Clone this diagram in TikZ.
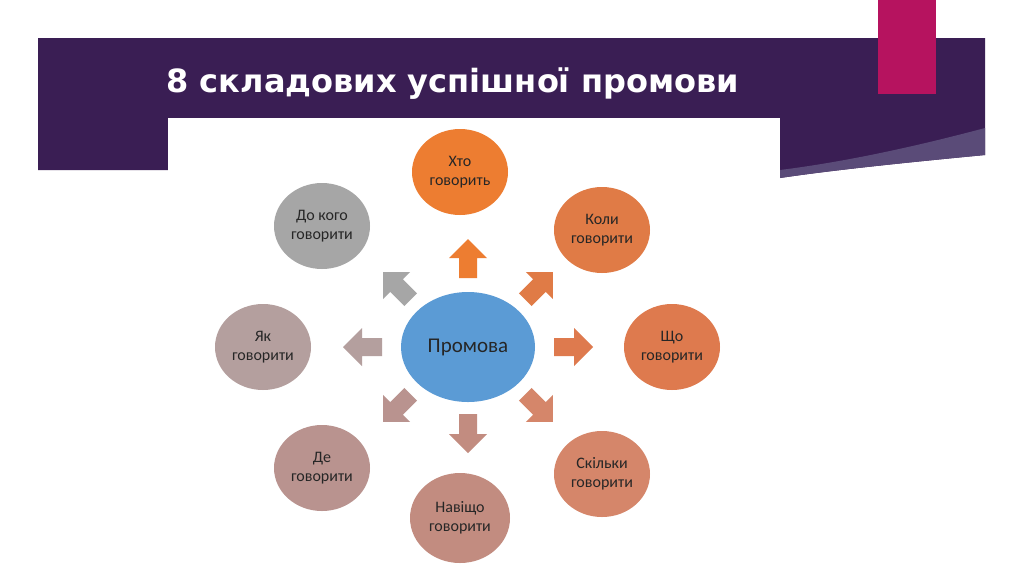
\documentclass[tikz,border=0pt]{standalone}
\usepackage{fontspec}
\setmainfont{Carlito}
\newfontfamily\titlefont{DejaVu Sans}
\begin{document}
\begin{tikzpicture}[x=1pt,y=-1pt,
  bub/.style={ellipse,minimum width=96pt,minimum height=86pt,inner sep=0pt,align=center,font=\fontsize{16}{19}\selectfont,text=black!85},
  blk/.pic={\fill[pic actions] (-18,-9)--(2,-9)--(2,-19)--(21,0)--(2,19)--(2,9)--(-18,9)--cycle;}]
\usetikzlibrary{shapes.geometric}
\useasboundingbox (0,0) rectangle (1024,574);
\fill[white] (0,0) rectangle (1024,574);
\fill[color={rgb,255:red,58;green,30;blue,84}] (38,38) -- (985,38) -- (985,155) .. controls (880,165) and (820,172) .. (780,178) -- (780,170) -- (38,170) -- cycle;
\fill[color={rgb,255:red,90;green,75;blue,120}] (780,170) .. controls (860,160) and (940,140) .. (985,128) -- (985,155) .. controls (880,165) and (820,172) .. (780,178) -- cycle;
\fill[color={rgb,255:red,182;green,19;blue,95}] (878,0) rectangle (936,94);
\node[anchor=west,text=white,font=\titlefont\bfseries\fontsize{32}{36}\selectfont] (title) at (163,84) {8 складових успішної промови};
\fill[white] (168,118) rectangle (780,574);
\node[bub,minimum width=134pt,minimum height=110pt,fill={rgb,255:red,91;green,155;blue,213},font=\fontsize{21}{24}\selectfont] (c) at (468,347) {Промова};
\node[bub,fill={rgb,255:red,237;green,125;blue,49}] (a1) at (460,172) {Хто\\говорить};
\node[bub,fill={rgb,255:red,224;green,123;blue,70}] (a2) at (602,230) {Коли\\говорити};
\node[bub,fill={rgb,255:red,222;green,122;blue,78}] (a3) at (672,347) {Що\\говорити};
\node[bub,fill={rgb,255:red,213;green,134;blue,106}] (a4) at (602,474) {Скільки\\говорити};
\node[bub,minimum width=100pt,minimum height=90pt,fill={rgb,255:red,194;green,140;blue,128}] (a5) at (460,518) {Навіщо\\говорити};
\node[bub,fill={rgb,255:red,185;green,147;blue,143}] (a6) at (322,468) {Де\\говорити};
\node[bub,fill={rgb,255:red,180;green,159;blue,158}] (a7) at (263,347) {Як\\говорити};
\node[bub,fill={rgb,255:red,166;green,166;blue,166}] (a8) at (322,226) {До кого\\говорити};
\pic[fill={rgb,255:red,237;green,125;blue,49},rotate=90] at (468,260) {blk};
\pic[fill={rgb,255:red,224;green,123;blue,70},rotate=45] at (538,287) {blk};
\pic[fill={rgb,255:red,222;green,122;blue,78}] at (572,347) {blk};
\pic[fill={rgb,255:red,213;green,134;blue,106},rotate=-45] at (538,407) {blk};
\pic[fill={rgb,255:red,194;green,140;blue,128},rotate=-90] at (468,432) {blk};
\pic[fill={rgb,255:red,185;green,147;blue,143},rotate=-135] at (398,407) {blk};
\pic[fill={rgb,255:red,180;green,159;blue,158},rotate=180] at (364,347) {blk};
\pic[fill={rgb,255:red,166;green,166;blue,166},rotate=135] at (398,287) {blk};
\end{tikzpicture}
\end{document}
